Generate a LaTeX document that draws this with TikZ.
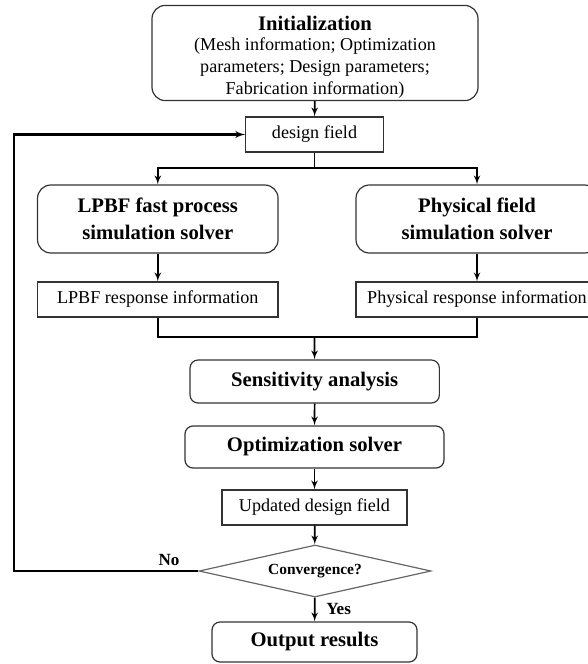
\documentclass[tikz,border=0pt]{standalone}
\usepackage{fontspec}
\setmainfont{Liberation Serif}
\usetikzlibrary{arrows,shapes.geometric}

\begin{document}
\begin{tikzpicture}[x=0.75pt,y=-0.75pt,>=latex',
	box/.style={rectangle,draw=black!80,line width=0.9pt,align=center,inner sep=2pt,
		font=\fontsize{13.6}{16.5}\selectfont},
	main node/.style={box,rounded corners=6pt,font=\bfseries\fontsize{15.5}{20}\selectfont},
	test node/.style={diamond,draw=black!60,line width=0.9pt,aspect=4.46,inner sep=0pt,
		font=\bfseries\fontsize{11.6}{14}\selectfont},
	tag/.style={font=\bfseries\fontsize{12.8}{15}\selectfont},
	link/.style={->,line width=1.3pt},
	loop line/.style={->,line width=1.6pt}]

	\useasboundingbox (0,0) rectangle (588,664);
	\clip (0,0) rectangle (588,664);

	% main column
	\node[main node,rounded corners=10pt,minimum width=244.5pt,minimum height=70.5pt,
		font=\fontsize{13.6}{16.5}\selectfont] (init) at (315,53)
		{\rule{0pt}{17pt}{\bfseries\fontsize{15.5}{18}\selectfont Initialization}\\[-2pt]
		(Mesh information; Optimization\\ parameters; Design parameters;\\ Fabrication information)};
	\node[box,minimum width=103pt,minimum height=26.25pt] (field) at (314.5,134.5) {design field};

	% two solvers
	\node[main node,rounded corners=10pt,minimum width=180.4pt,minimum height=51pt] (lpbf) at (157.8,219)
		{LPBF fast process\\ simulation solver};
	\node[main node,rounded corners=10pt,minimum width=181.5pt,minimum height=51pt] (phys) at (477,219)
		{Physical field\\ simulation solver};
	\node[box,minimum width=180.4pt,minimum height=26.25pt] (lpbfres) at (157.8,299.5) {LPBF response information};
	\node[box,minimum width=181.5pt,minimum height=26.25pt] (physres) at (477,299.5) {Physical response information};

	\node[main node,minimum width=187pt,minimum height=32.25pt] (sens) at (314.7,381.5) {Sensitivity analysis};
	\node[main node,minimum width=194.25pt,minimum height=31.5pt] (opt) at (314.5,447) {Optimization solver};
	\node[box,minimum width=138.75pt,minimum height=26.25pt] (upd) at (314.5,507.5) {Updated design field};
	\node[test node,minimum width=174pt,minimum height=39pt] (conv) at (315,571) {Convergence?};
	\node[main node,minimum width=153.75pt,minimum height=30pt] (out) at (314.5,642) {Output results};

	\node[tag] (no) at (169,560) {No};
	\node[tag] (yes) at (338.6,609) {Yes};

	\coordinate (split) at (314.5,168);
	\coordinate (merge) at (314.5,337);
	\coordinate (back) at (14,571);

	\draw[link] (init) -- (field);
	\draw[link,-] (field) -- (split);
	\draw[link] (split) -| (lpbf);
	\draw[link] (split) -| (phys);
	\draw[link] (lpbf) -- (lpbfres);
	\draw[link] (phys) -- (physres);
	\draw[link,-] (lpbfres) |- (merge);
	\draw[link,-] (physres) |- (merge);
	\draw[link] (merge) -- (sens);
	\draw[link] (sens) -- (opt);
	\draw[link] (opt) -- (upd);
	\draw[link] (upd) -- (conv);
	\draw[link] (conv) -- (out);

	% back to the design field
	\draw[loop line] (conv.west) -- (back) |- (field.west);
\end{tikzpicture}
\end{document}
